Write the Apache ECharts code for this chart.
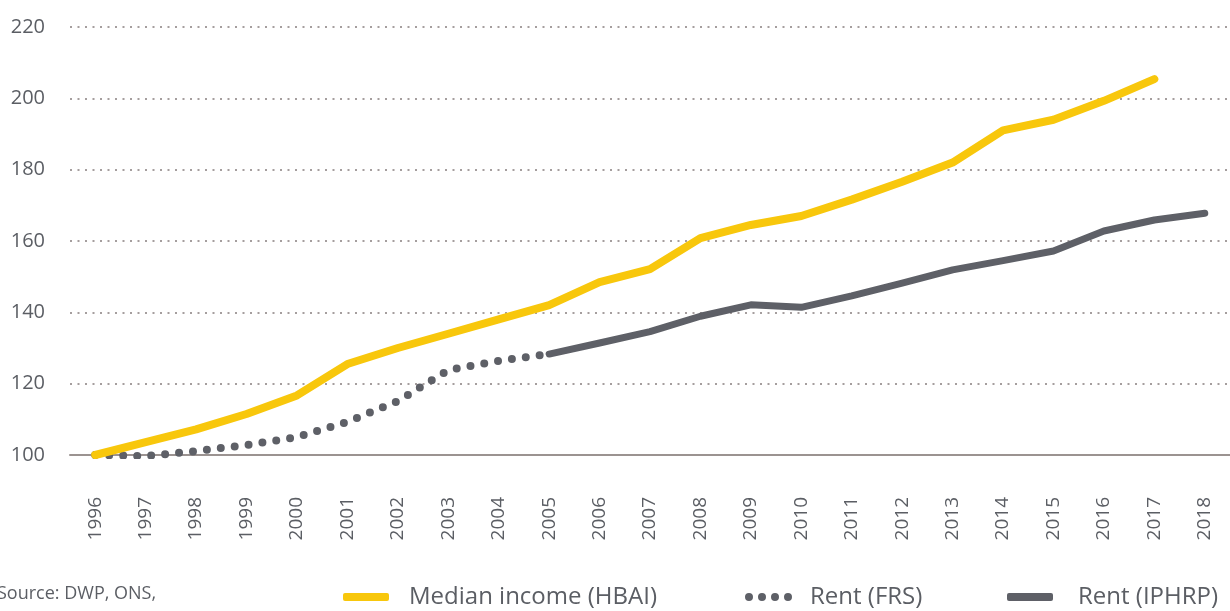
<!DOCTYPE html>
<html>
<head>
<meta charset="utf-8">
<title>Income and rent index</title>
<script src="https://cdn.jsdelivr.net/npm/echarts@6/dist/echarts.min.js"></script>
<style>
    html, body { margin: 0; padding: 0; background: #fff; }
    #chart { width: 1230px; height: 611px; }
</style>
</head>
<body>
<div id="chart"></div>
<script>
// 年份
var years = ['1996', '1997', '1998', '1999', '2000', '2001', '2002', '2003', '2004', '2005', '2006', '2007',
    '2008', '2009', '2010', '2011', '2012', '2013', '2014', '2015', '2016', '2017', '2018'];
// Median income (HBAI)
var incomeHbai = [100, 103.6, 107.2, 111.5, 116.7, 125.5, 130, 134, 138, 142, 148.5, 152.1,
    160.8, 164.5, 167, 171.6, 176.6, 182, 191, 194, 199.3, 205.4, null];
// Rent (FRS)
var rentFrs = [100, 99.7, 101.1, 102.8, 105, 109.3, 115.1, 123.8, 126.4, 128.3, null, null,
    null, null, null, null, null, null, null, null, null, null, null];
// Rent (IPHRP)
var rentIphrp = [null, null, null, null, null, null, null, null, null, 128.3, 131.4, 134.6,
    138.9, 142.1, 141.4, 144.6, 148.2, 151.9, 154.5, 157.2, 162.8, 165.9, 167.8];
// 纵轴刻度
var yMin = 100, yMax = 220, yStep = 20;

var textColor = '#5b5e64';
var fontName = 'Open Sans';
var yellow = '#f8c70c';
var grey = '#5e6067';

// 四个圆点的图例图标
var dotsIcon = 'path://M0,4a4,4 0 1,0 8,0a4,4 0 1,0 -8,0' +
    'M13,4a4,4 0 1,0 8,0a4,4 0 1,0 -8,0' +
    'M26,4a4,4 0 1,0 8,0a4,4 0 1,0 -8,0' +
    'M39,4a4,4 0 1,0 8,0a4,4 0 1,0 -8,0';

function makeLegend(name, left, icon, width, gap) {
    return {
        top: 585,
        left: left,
        padding: 0,
        itemWidth: width,
        itemHeight: 8,
        icon: icon,
        itemStyle: { borderWidth: 0 },
        textStyle: { fontSize: 24, color: textColor, fontFamily: fontName, padding: [0, 0, 0, gap] },
        data: [name]
    };
}

var option = {
    animation: false,
    textStyle: { fontFamily: fontName },
    grid: {
        left: 70,
        right: 0,
        top: 27,
        bottom: 156
    },
    xAxis: {
        type: 'category',
        data: years,
        boundaryGap: true,
        axisLine: { show: true, lineStyle: { color: '#9b9391', width: 2 } },
        axisTick: { show: false },
        axisLabel: {
            rotate: 90,
            margin: 42,
            fontSize: 19,
            color: textColor,
            fontFamily: fontName
        }
    },
    yAxis: {
        type: 'value',
        min: yMin,
        max: yMax,
        interval: yStep,
        axisLine: { show: false },
        axisTick: { show: false },
        axisLabel: {
            margin: 25,
            fontSize: 20,
            color: textColor,
            fontFamily: fontName
        },
        splitLine: {
            lineStyle: { color: '#a59e9e', width: 2, type: [2, 5.5] }
        }
    },
    legend: [
        makeLegend('Median income (HBAI)', 343, 'roundRect', 46, 15),
        makeLegend('Rent (FRS)', 745, dotsIcon, 47, 13),
        makeLegend('Rent (IPHRP)', 1007, 'roundRect', 46, 20)
    ],
    graphic: [{
        type: 'text',
        left: -3,
        top: 585,
        style: { text: 'Source: DWP, ONS,', fontSize: 18, fill: textColor, fontFamily: fontName }
    }],
    series: [
        {
            name: 'Median income (HBAI)',
            type: 'line',
            data: incomeHbai,
            z: 5,
            showSymbol: false,
            symbol: 'none',
            color: yellow,
            lineStyle: { width: 8, color: yellow, cap: 'round', join: 'round' }
        },
        {
            name: 'Rent (FRS)',
            type: 'line',
            data: rentFrs,
            z: 3,
            showSymbol: false,
            symbol: 'none',
            color: grey,
            lineStyle: { width: 8, color: grey, type: [0, 14], cap: 'round' }
        },
        {
            name: 'Rent (IPHRP)',
            type: 'line',
            data: rentIphrp,
            z: 4,
            showSymbol: false,
            symbol: 'none',
            color: grey,
            lineStyle: { width: 7, color: grey, cap: 'round', join: 'round' }
        }
    ]
};

var chart = echarts.init(document.getElementById('chart'));
chart.setOption(option);
</script>
</body>
</html>
